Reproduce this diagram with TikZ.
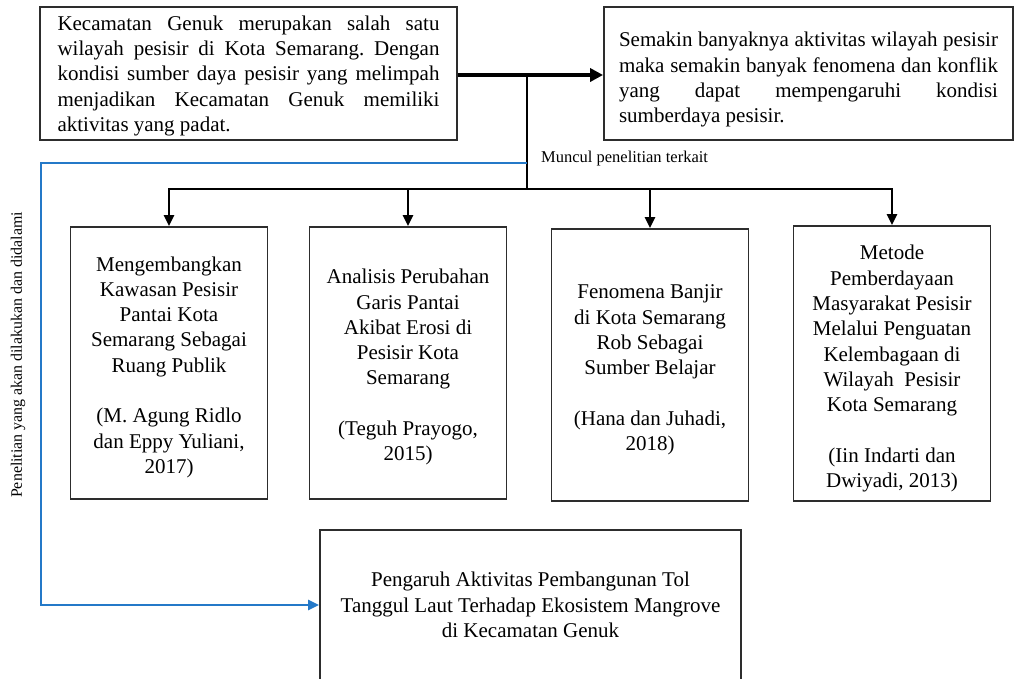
\documentclass[tikz,border=0pt]{standalone}
\usepackage{fontspec}
\setmainfont{Liberation Serif}
\usetikzlibrary{arrows.meta}
\definecolor{flowblue}{RGB}{36,121,200}
\definecolor{frame}{RGB}{45,45,45}
% invisible strut that deepens the first line, lowering a centred text block
\newcommand{\topgap}[1]{\rule{0pt}{#1}}
\frenchspacing
\begin{document}
\begin{tikzpicture}[x=1pt,y=-1pt,
  box/.style={draw=frame, line width=1.8pt, inner sep=0pt,
    font=\fontsize{21}{25.3}\selectfont},
  parabox/.style={box, align=justify},
  studybox/.style={box, align=center, minimum width=197pt},
  tip/.style={-{Triangle[length=11pt,width=10pt]}},
  mainarrow/.style={line width=3.6pt, -{Triangle[length=13pt,width=13pt]}},
  trunk/.style={line width=2.8pt},
  branch/.style={line width=2.6pt, tip},
  blueline/.style={draw=flowblue, line width=2.4pt, -{Triangle[length=11pt,width=10pt]}},
  note/.style={font=\fontsize{16.5}{19}\selectfont, inner sep=0pt}]
\useasboundingbox (0,0) rectangle (1016,678);

% top row: context and consequence
\node[parabox, minimum width=417pt, minimum height=133pt, text width=382pt]
  (ctx) at (248.5,73.5)
  {\topgap{19pt}Kecamatan Genuk merupakan salah satu\linebreak
   wilayah pesisir di Kota Semarang. Dengan\linebreak
   kondisi sumber daya pesisir yang melimpah\linebreak
   menjadikan Kecamatan Genuk memiliki\linebreak
   aktivitas yang padat.};
\node[parabox, minimum width=409pt, minimum height=133pt, text width=379pt]
  (effect) at (808.5,73.5)
  {\topgap{27pt}Semakin banyaknya aktivitas wilayah pesisir\linebreak
   maka semakin banyak fenomena dan konflik\linebreak
   yang dapat mempengaruhi kondisi\linebreak
   sumberdaya pesisir.};

% related studies
\node[studybox, minimum height=272pt] (s1) at (169,363)
  {\topgap{23pt}Mengembangkan\\Kawasan Pesisir\\Pantai Kota\\Semarang Sebagai\\Ruang Publik\\[25.3pt]
   (M. Agung Ridlo\\dan Eppy Yuliani,\\2017)};
\node[studybox, minimum height=272pt] (s2) at (408,363)
  {\topgap{23pt}Analisis Perubahan\\Garis Pantai\\Akibat Erosi di\\Pesisir Kota\\Semarang\\[25.3pt]
   (Teguh Prayogo,\\2015)};
\node[studybox, minimum height=272pt] (s3) at (650,365)
  {\topgap{24pt}Fenomena Banjir\\di Kota Semarang\\Rob Sebagai\\Sumber Belajar\\[25.3pt]
   (Hana dan Juhadi,\\2018)};
\node[studybox, minimum height=275pt] (s4) at (892,363.5)
  {\topgap{25pt}Metode\\Pemberdayaan\\Masyarakat Pesisir\\Melalui Penguatan\\Kelembagaan di\\Wilayah\ \ Pesisir\\Kota Semarang\\[25.3pt]
   (Iin Indarti dan\\Dwiyadi, 2013)};

% planned study
\node[box, align=center, minimum width=421pt, minimum height=150pt] (goal) at (530.5,605)
  {Pengaruh Aktivitas Pembangunan Tol\\Tanggul Laut Terhadap Ekosistem Mangrove\\di Kecamatan Genuk};

% labels
\node[note, anchor=west] (related) at (541,159) {Muncul penelitian terkait};
\node[note, font=\fontsize{15.9}{19}\selectfont, rotate=90] (planned) at (18,355)
  {Penelitian yang akan dilakukan dan didalami};

% connectors
\coordinate (split) at (527,75);
\coordinate (fork) at (527,163);
\coordinate (hub) at (527,189);
\coordinate (bendtop) at (41,163);
\coordinate (bendbot) at (41,605);

\draw[mainarrow] (ctx.east |- split) -- (effect.west |- split);
\draw[trunk] (split) -- (hub);
\draw[trunk, line cap=rect] (s1.north |- hub) -- (s4.north |- hub);
\foreach \s in {s1,s2,s3,s4}
  \draw[branch] (\s.north |- hub) -- (\s.north);
\draw[blueline] (fork) -- (bendtop) -- (bendbot) -- (goal.west);
\end{tikzpicture}
\end{document}
